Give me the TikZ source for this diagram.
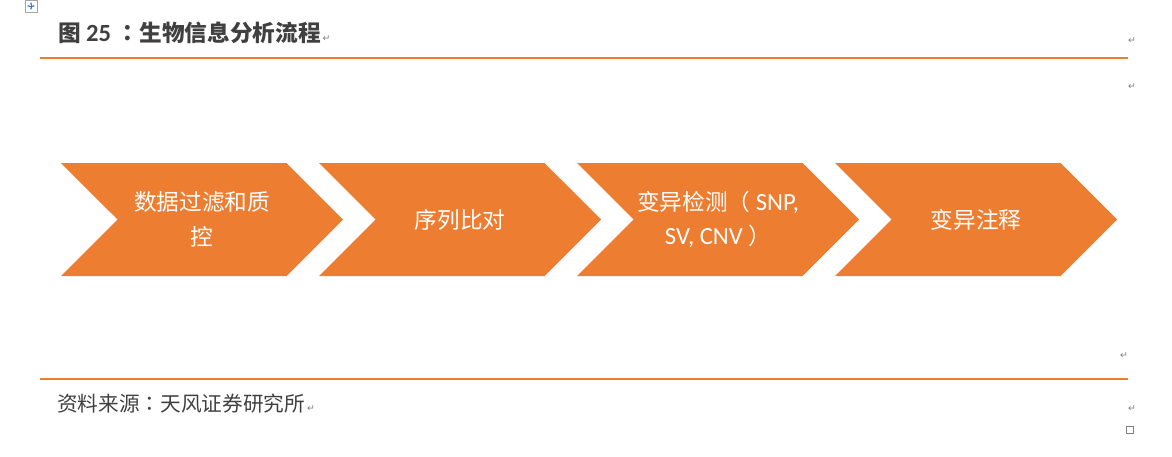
\documentclass[tikz,border=0pt]{standalone}
\usepackage{fontspec}
\setmainfont{Carlito}
\newfontfamily\cjk{Noto Sans CJK SC}
\newfontfamily\cjkpunct{Noto Sans CJK TC}
\newfontfamily\symfont{DejaVu Sans}
\newcommand{\lat}[1]{{\fontspec{Carlito}\fontsize{18.5}{26}\selectfont #1}}
\usetikzlibrary{shapes.symbols,positioning,arrows.meta}
\definecolor{tforange}{HTML}{ED7D31}
\definecolor{tfgray}{HTML}{404040}
\definecolor{markgray}{HTML}{7F7F7F}
\definecolor{iconblue}{HTML}{3A75C4}

\begin{document}
\begin{tikzpicture}[
		x=0.75pt, y=-0.75pt,
		chevron/.style={signal, signal to=east, signal from=west, signal pointer angle=90,
			fill=tforange, draw=none, minimum width=211.5pt, minimum height=84.75pt,
			inner sep=0pt, text=white, align=center, font=\cjk\fontsize{17}{26}\selectfont},
		rule/.style={draw=tforange, line width=0.8pt},
		pmark/.style={text=markgray, inner sep=0pt, font=\symfont\fontsize{7}{7}\selectfont},
		caption/.style={anchor=base west, inner sep=0pt, text=tfgray}
		]
		\useasboundingbox (0,0) rectangle (1172,457);
		
		% move handle in the corner
		\node[draw=markgray!70, fill=white, minimum size=9pt, inner sep=0pt, line width=0.5pt] (handle) at (31,6) {};
		\draw[iconblue, line width=0.6pt, {Stealth[length=2pt]}-{Stealth[length=2pt]}] (handle.center) ++(-4,0) -- ++(8,0);
		\draw[iconblue, line width=0.6pt, {Stealth[length=2pt]}-{Stealth[length=2pt]}] (handle.center) ++(0,-4) -- ++(0,8);
		
		\node[caption, font=\cjk\bfseries\fontsize{17}{20}\selectfont] (title) at (58,41)
			{图 {\fontspec{Carlito}\bfseries\fontsize{18.5}{20}\selectfont 25 }{\cjkpunct ：}生物信息分析流程};
		\node[pmark, anchor=base west] (m0) at ([xshift=1pt]title.base east) {↵};
		\node[pmark] (m1) at (1132,41) {↵};
		\draw[rule] (40,58) -- (1128,58);
		\node[pmark] (m2) at (1132,87) {↵};
		
		% four steps
		\node[chevron] (filter) at (202,219.5) {数据过滤和质\\控};
		\node[chevron] (align) at (460,219.5) {序列比对};
		\node[chevron] (detect) at (718,219.5) {变异检测{\cjkpunct （}\lat{\ SNP,}\\\lat{SV, CNV\ }{\cjkpunct ）}};
		\node[chevron] (annot) at (976,219.5) {变异注释};
		
		\node[pmark] (m3) at (1124,356) {↵};
		\draw[rule] (40,379) -- (1128,379);
		\node[caption, font=\cjk\fontsize{15.5}{18}\selectfont] (source) at (57,411) {资料来源{\cjkpunct ：}天风证券研究所};
		\node[pmark, anchor=base west] (m4) at ([xshift=1pt]source.base east) {↵};
		\node[pmark] (m5) at (1132,409) {↵};
		\node[draw=markgray, minimum size=5pt, inner sep=0pt, line width=0.5pt] (endmark) at (1130,430) {};
	\end{tikzpicture}
\end{document}
